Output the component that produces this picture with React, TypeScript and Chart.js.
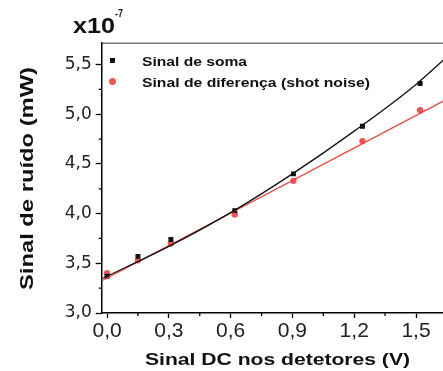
import React, { useEffect, useRef } from 'react';
import { Chart, registerables } from 'chart.js';
Chart.register(...registerables);

// Measured data points
const xValues = [0.0, 0.15, 0.31, 0.62, 0.905, 1.24, 1.52];
const somaValues = [3.37, 3.57, 3.74, 4.03, 4.40, 4.88, 5.31];
const diferencaValues = [3.40, 3.53, 3.70, 3.99, 4.33, 4.73, 5.04];

// Fit curves
const somaFitX = [-0.02, 0.3, 0.6, 0.9, 1.2, 1.5, 1.75];
const somaFitY = [3.35, 3.67, 4.01, 4.40, 4.83, 5.30, 5.77];
const difFitX = [-0.02, 1.75];
const difFitY = [3.33, 5.26];

const seriesNames = ['Sinal de soma', 'Sinal de diferença (shot noise)'];
const xTitle = 'Sinal DC nos detetores (V)';
const yTitle = 'Sinal de ruído (mW)';

const X_MIN = -0.026;
const X_MAX = 1.75;
const Y_MIN = 3.0;
const Y_MAX = 5.72;

const BLACK = '#111111';
const RED = '#e8463e';
const RED_PT = '#e85a58';
const FONT = '"Liberation Sans", Arial, sans-serif';
const FONT_Y = '"DejaVu Sans", "Liberation Sans", sans-serif';

const near = (v: number, step: number) => Math.abs(v / step - Math.round(v / step)) < 1e-6;

function fitText(ctx: CanvasRenderingContext2D, text: string, x: number, y: number, width: number, font: string) {
  ctx.save();
  ctx.font = font;
  const w = ctx.measureText(text).width;
  ctx.translate(x, y);
  ctx.scale(width / w, 1);
  ctx.textAlign = 'left';
  ctx.textBaseline = 'alphabetic';
  ctx.fillText(text, 0, 0);
  ctx.restore();
}

const decorPlugin = {
  id: 'decor',
  afterDraw(chart: any) {
    const ctx: CanvasRenderingContext2D = chart.ctx;
    const area = chart.chartArea;
    const xs = chart.scales.x;
    const ys = chart.scales.y;
    ctx.save();
    // top frame line
    ctx.strokeStyle = '#333';
    ctx.lineWidth = 1;
    ctx.beginPath();
    ctx.moveTo(area.left, area.top + 0.5);
    ctx.lineTo(area.right, area.top + 0.5);
    ctx.stroke();
    // minor ticks
    ctx.strokeStyle = '#000';
    ctx.lineWidth = 1.3;
    ctx.beginPath();
    xs.ticks.forEach((t: any) => {
      if (!near(t.value, 0.3)) {
        const px = xs.getPixelForValue(t.value);
        ctx.moveTo(px, area.bottom);
        ctx.lineTo(px, area.bottom + 3);
      }
    });
    ys.ticks.forEach((t: any) => {
      if (!near(t.value, 0.5) && t.value < Y_MAX - 0.01) {
        const py = ys.getPixelForValue(t.value);
        ctx.moveTo(area.left, py);
        ctx.lineTo(area.left - 3, py);
      }
    });
    ctx.stroke();

    ctx.fillStyle = '#111';
    // x10^-7
    fitText(ctx, 'x10', 73, 33, 42, `bold 22px ${FONT}`);
    fitText(ctx, '-7', 115, 17, 8, `bold 10px ${FONT}`);

    // axis titles
    fitText(ctx, xTitle, 145, 365, 265, `bold 16px ${FONT}`);
    ctx.save();
    ctx.font = `bold 18px ${FONT}`;
    const w = ctx.measureText(yTitle).width;
    ctx.translate(33, 290);
    ctx.rotate(-Math.PI / 2);
    ctx.scale(223 / w, 1);
    ctx.textAlign = 'left';
    ctx.fillText(yTitle, 0, 0);
    ctx.restore();

    // legend
    ctx.fillStyle = BLACK;
    ctx.fillRect(110, 58, 5, 5);
    ctx.fillStyle = RED_PT;
    ctx.beginPath();
    ctx.arc(112.5, 81.5, 3.5, 0, Math.PI * 2);
    ctx.fill();
    ctx.fillStyle = '#111';
    fitText(ctx, seriesNames[0], 142, 66, 105, `bold 12px ${FONT}`);
    fitText(ctx, seriesNames[1], 142, 87, 228, `bold 12px ${FONT}`);
    ctx.restore();
  },
};

export default function App() {
  const ref = useRef<HTMLCanvasElement | null>(null);
  useEffect(() => {
    if (!ref.current) return;
    const chart = new Chart(ref.current, {
      type: 'scatter',
      data: {
        datasets: [
          {
            label: seriesNames[0] + ' fit',
            data: somaFitX.map((x, i) => ({ x, y: somaFitY[i] })),
            showLine: true,
            borderColor: BLACK,
            borderWidth: 1.3,
            pointRadius: 0,
            cubicInterpolationMode: 'monotone',
          },
          {
            label: seriesNames[1] + ' fit',
            data: difFitX.map((x, i) => ({ x, y: difFitY[i] })),
            showLine: true,
            borderColor: RED,
            borderWidth: 1.3,
            pointRadius: 0,
          },
          {
            label: seriesNames[0],
            data: xValues.map((x, i) => ({ x, y: somaValues[i] })),
            pointStyle: 'rect',
            pointRadius: 3.5,
            backgroundColor: BLACK,
            borderColor: BLACK,
            borderWidth: 0,
          },
          {
            label: seriesNames[1],
            data: xValues.map((x, i) => ({ x, y: diferencaValues[i] })),
            pointStyle: 'circle',
            pointRadius: 3.2,
            backgroundColor: RED_PT,
            borderColor: RED_PT,
            borderWidth: 0,
          },
        ],
      },
      options: {
        animation: false,
        responsive: false,
        devicePixelRatio: 1,
        layout: { padding: { left: 0, top: 42.7, right: 32.5, bottom: 0 } },
        plugins: { legend: { display: false }, tooltip: { enabled: false }, title: { display: false } },
        scales: {
          x: {
            type: 'linear',
            min: X_MIN,
            max: X_MAX,
            afterFit: (s: any) => { s.height = 58; },
            border: { display: true, color: '#000', width: 1.5 },
            grid: {
              display: true,
              drawOnChartArea: false,
              drawTicks: true,
              tickLength: 5,
              tickWidth: 1.3,
              tickColor: (c: any) => (c.tick && near(c.tick.value, 0.3) ? '#000' : 'rgba(0,0,0,0)'),
            },
            ticks: {
              stepSize: 0.15,
              includeBounds: false,
              autoSkip: false,
              maxRotation: 0,
              padding: 1,
              color: '#222',
              font: { family: FONT, size: 21 },
              callback: (v: any) => (near(Number(v), 0.3) ? Number(v).toFixed(1).replace('.', ',').replace('-', '') : ''),
            },
          },
          y: {
            type: 'linear',
            min: Y_MIN,
            max: Y_MAX,
            afterFit: (s: any) => { s.width = 101.7; },
            border: { display: true, color: '#000', width: 1.5 },
            grid: {
              display: true,
              drawOnChartArea: false,
              drawTicks: true,
              tickLength: 6,
              tickWidth: 1.3,
              tickColor: (c: any) => (c.tick && near(c.tick.value, 0.5) ? '#000' : 'rgba(0,0,0,0)'),
            },
            ticks: {
              stepSize: 0.25,
              includeBounds: false,
              autoSkip: false,
              padding: 4,
              color: '#222',
              font: { family: FONT_Y, size: 17 },
              callback: (v: any) => (near(Number(v), 0.5) ? Number(v).toFixed(1).replace('.', ',') : ''),
            },
          },
        },
      },
      plugins: [decorPlugin],
    } as any);
    return () => chart.destroy();
  }, []);

  return (
    <div style={{ position: 'fixed', left: 0, top: 0, width: 443, height: 371, overflow: 'hidden', background: '#fff' }}>
      <canvas ref={ref} width={500} height={371} style={{ width: 500, height: 371, display: 'block' }} />
    </div>
  );
}
